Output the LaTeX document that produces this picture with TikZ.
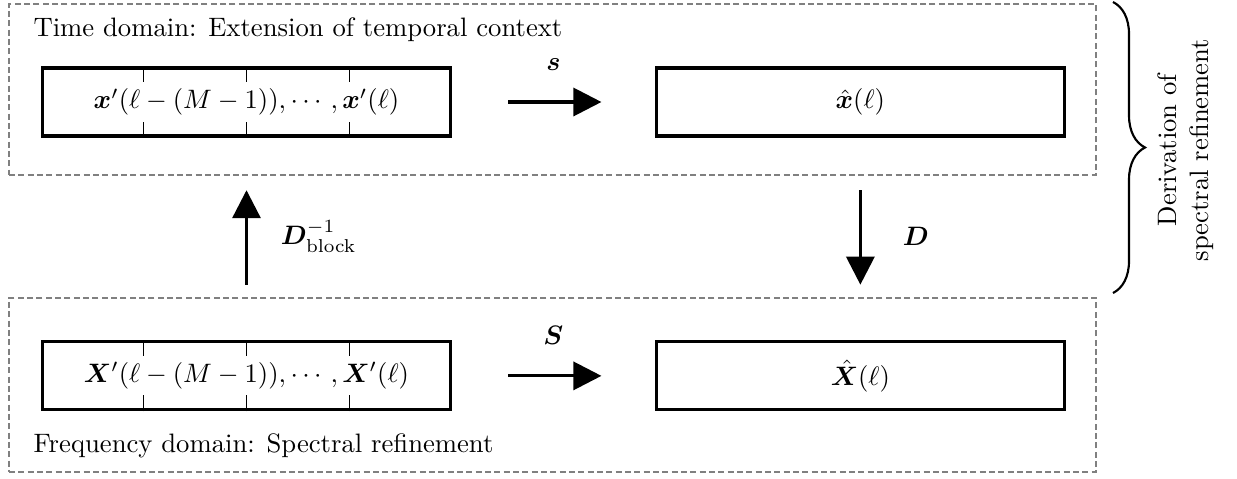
\documentclass[tikz,border=0pt]{standalone}
\usepackage{amsmath}
\usepackage{amssymb}
\usepackage{bm}
\usetikzlibrary{calc, positioning, fit, arrows.meta, decorations.pathreplacing}

\begin{document}
\begin{tikzpicture}[x=0.375pt,y=-0.375pt,node distance=76pt,
                    block/.style={rectangle,draw,very thick,minimum width=153pt,minimum height=25.5pt,inner sep=0pt},
                    frame/.style={draw=gray,line width=1pt,dash pattern=on 2.2pt off 1.3pt,inner sep=0pt},
                    flow/.style={very thick,-{Triangle[length=10.5pt,width=10.5pt]}},
                    caption/.style={inner sep=0pt,anchor=base west}]

  \useasboundingbox (0,0) rectangle (1237,478);

  \node[block] (xin) at (246.5,102) {$\bm{x}'(\ell - (M-1)), \cdots, \bm{x}'(\ell)$};
  \node[block] (xhat) [right=of xin] {$\hat{\bm{x}}(\ell)$};
  \node[block] (Xin) [below=of xin] {$\bm{X}'(\ell - (M-1)), \cdots, \bm{X}'(\ell)$};
  \node[block] (Xhat) [right=of Xin] {$\hat{\bm{X}}(\ell)$};

  % block separators
  \foreach \b in {xin,Xin}
    \foreach \f in {0.25,0.5,0.75} {
      \draw ($(\b.north west)!\f!(\b.north east)$) -- ++(0,-6pt);
      \draw ($(\b.south west)!\f!(\b.south east)$) -- ++(0,6pt);
    }

  % domains
  \coordinate (t1) at (9,4);
  \coordinate (t2) at (1096,175);
  \coordinate (f1) at (9,298);
  \coordinate (f2) at (1096,472);
  \node[frame,fit=(t1)(t2)] (time) {};
  \node[frame,fit=(f1)(f2)] (freq) {};

  \node[caption] (ttl) at (33,36) {Time domain: Extension of temporal context};
  \node[caption] (ftl) at (33,452) {Frequency domain: Spectral refinement};

  \draw[flow,shorten <=21pt,shorten >=20pt] (xin) -- node[above=8pt] (s) {$\bm{s}$} (xhat);
  \draw[flow,shorten <=21pt,shorten >=20pt] (Xin) -- node[above=8pt] (S) {$\bm{S}$} (Xhat);

  \draw[flow,shorten <=4.5pt,shorten >=5.2pt] (Xin |- freq.north) -- node[right=9pt] (Dinv) {$\bm{D}_{\text{block}}^{-1}$} (Xin |- time.south);
  \draw[flow,shorten <=5.2pt,shorten >=4.5pt] (Xhat |- time.south) -- node[right=12pt] (D) {$\bm{D}$} (Xhat |- freq.north);

  % brace
  \draw[thick,decorate,decoration={brace,amplitude=12pt}] (1113,2) -- (1113,293);
  \node[rotate=90,align=center] (deriv) at (1186,150) {Derivation of\\spectral refinement};
\end{tikzpicture}
\end{document}
